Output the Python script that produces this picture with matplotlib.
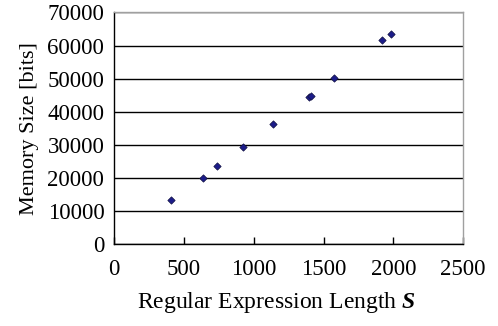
import matplotlib
matplotlib.use("Agg")
import matplotlib.pyplot as plt

regex_length = [408, 634, 739, 925, 1140, 1393, 1407, 1572, 1922, 1980]
memory_bits = [13200, 20100, 23700, 29400, 36350, 44450, 44750, 50150, 61550, 63450]

x_ticks = [0, 500, 1000, 1500, 2000, 2500]
y_ticks = [0, 10000, 20000, 30000, 40000, 50000, 60000, 70000]

plt.rcParams['font.family'] = ['Liberation Serif']
plt.rcParams['mathtext.fontset'] = 'custom'
plt.rcParams['mathtext.rm'] = 'Liberation Serif'
plt.rcParams['mathtext.it'] = 'Liberation Serif:italic'
plt.rcParams['mathtext.bf'] = 'Liberation Serif:bold'
plt.rcParams['mathtext.bfit'] = 'Liberation Serif:italic:bold'

fig = plt.figure(figsize=(4.98, 3.26), dpi=100)
ax = fig.add_axes([0.229, 0.251, 0.701, 0.711])

ax.scatter(regex_length, memory_bits, marker='D', s=14, color='#1c1c8a',
           edgecolors='#101040', linewidths=0.5, zorder=3)

ax.set_xlim(0, 2500)
ax.set_ylim(0, 70000)
ax.set_xticks(x_ticks)
ax.set_yticks(y_ticks)
ax.set_xticklabels([str(v) for v in x_ticks])
ax.set_yticklabels([str(v) for v in y_ticks])

ax.yaxis.grid(True, color='black', linewidth=1.0)
ax.set_axisbelow(True)

for s in ['top', 'right']:
    ax.spines[s].set_color('#a0a0a0')
    ax.spines[s].set_linewidth(1.0)
for s in ['left', 'bottom']:
    ax.spines[s].set_color('black')
    ax.spines[s].set_linewidth(1.0)

ax.tick_params(axis='x', direction='in', length=5, width=1, pad=11, labelsize=16.5)
ax.tick_params(axis='y', length=0, pad=7, labelsize=16.5)

ax.set_xlabel(r'Regular Expression Length $\mathbfit{S}$', fontsize=17, labelpad=7)
ax.xaxis.label.set_x(0.465)
ax.set_ylabel('Memory Size [bits]', fontsize=16, labelpad=6)

fig.savefig('out.png', dpi=100)
